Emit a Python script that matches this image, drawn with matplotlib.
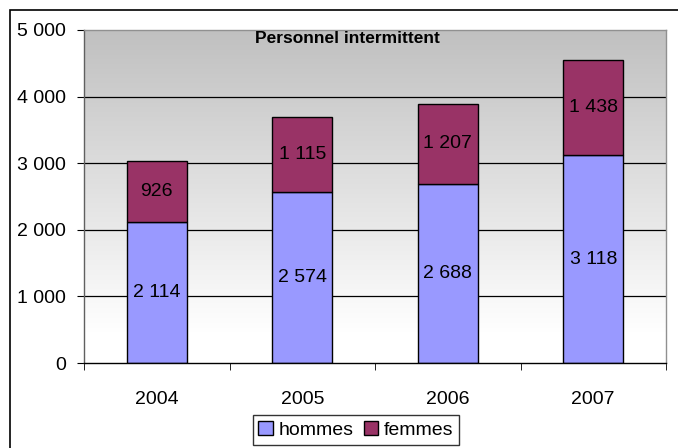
import matplotlib
matplotlib.use("Agg")
import matplotlib.pyplot as plt
import numpy as np
from matplotlib.patches import Rectangle

years = ["2004", "2005", "2006", "2007"]
hommes = [2114, 2574, 2688, 3118]
femmes = [926, 1115, 1207, 1438]
yticks = [0, 1000, 2000, 3000, 4000, 5000]
ytick_labels = ["0", "1 000", "2 000", "3 000", "4 000", "5 000"]
title = "Personnel intermittent"

plt.rcParams['font.family'] = ['Liberation Sans', 'DejaVu Sans']
fs = 14
fig = plt.figure(figsize=(6.78, 4.48), dpi=100)
ax = fig.add_axes([84/678, 1-363/448, (666-84)/678, (363-30)/448])

x = np.arange(len(years))

# gradient background (gray at top, white at bottom)
grad = np.linspace(0, 1, 256).reshape(-1, 1)
vals = 192/255 + (1-192/255) * np.clip(grad*1.1, 0, 1)
img = np.dstack([vals, vals, vals])
ax.imshow(img, extent=[-0.5, len(years)-0.5, 0, 5000], origin='upper', aspect='auto', zorder=0)
ax.set_xlim(-0.5, len(years)-0.5)
ax.set_ylim(0, 5000)

for yv in yticks[1:-1]:
    ax.axhline(yv, color='black', lw=0.9, zorder=1)

w = 0.41
b1 = ax.bar(x, hommes, w, color='#9999FF', edgecolor='black', lw=1.0, zorder=2, label='hommes')
b2 = ax.bar(x, femmes, w, bottom=hommes, color='#993366', edgecolor='black', lw=1.0, zorder=2, label='femmes')

def fmt(v):
    return f"{v:,}".replace(",", " ")

for i in range(len(years)):
    ax.text(x[i], hommes[i]/2, fmt(hommes[i]), ha='center', va='center', fontsize=fs, zorder=3)
    ax.text(x[i], hommes[i] + femmes[i]/2, fmt(femmes[i]), ha='center', va='center', fontsize=fs, zorder=3)

# title with wide letter spacing
tx = 222/678
t = fig.text(347/678, 1-31/448, title, ha='center', va='top', fontsize=12.5,
             fontweight='bold', zorder=5)

ax.set_yticks(yticks)
ax.set_yticklabels(ytick_labels, fontsize=fs)
ax.set_xticks(x)
ax.set_xticklabels(years, fontsize=fs)
ax.tick_params(axis='x', length=0, pad=20)
ax.set_xticks(np.arange(-0.5, len(years)), minor=True)
ax.tick_params(axis='x', which='minor', length=5, direction='out', color='black')
ax.tick_params(axis='y', length=5, direction='out', pad=8)

for s in ['top', 'right']:
    ax.spines[s].set_color('#909090')
ax.spines['left'].set_color('#606060')
ax.spines['bottom'].set_color('black')
for s in ax.spines.values():
    s.set_linewidth(1.0)

fig.legend(handles=[b1, b2], labels=['hommes', 'femmes'], loc='upper center',
           bbox_to_anchor=(356/678, 1-415/448), ncol=2, fontsize=fs,
           frameon=True, fancybox=False, edgecolor='black', handlelength=0.75,
           handleheight=0.75, handletextpad=0.3, columnspacing=0.5, borderpad=0.3,
           borderaxespad=0)
leg = fig.legends[0]
leg.get_frame().set_linewidth(1.0)

fig.patches.append(Rectangle((10/678, -0.1), 1.0, 1 - 10/448 + 0.1, transform=fig.transFigure,
                             fill=False, edgecolor='black', lw=1.2, zorder=-1))

fig.savefig("out.png", dpi=100)
